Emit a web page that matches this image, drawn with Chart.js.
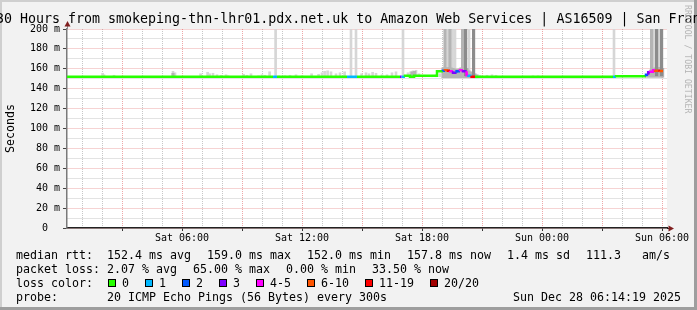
<!DOCTYPE html>
<html><head><meta charset="utf-8">
<script src="https://cdn.jsdelivr.net/npm/chart.js@4.4.1/dist/chart.umd.min.js"></script>
<style>
html,body{margin:0;padding:0;background:#f2f2f2;}
#wrap{position:relative;width:697px;height:310px;overflow:hidden;font-family:'DejaVu Sans Mono',monospace;color:#000;}
#c{position:absolute;left:0;top:0;}
.ov{position:absolute;white-space:pre;}
#title{left:-4px;top:11.4px;font-size:13.3px;line-height:16px;}
#wm{left:692px;top:5px;font-size:8.2px;line-height:8.2px;color:#b4b4b4;transform-origin:0 0;transform:rotate(90deg);}
.fl{font-size:11.63px;line-height:14px;height:14px;display:flex;}
.fl span{white-space:pre;}
.gap{margin-right:16px;}
.box{display:inline-block;width:6px;height:6px;border:1px solid #000;margin-right:-1px;}
</style></head>
<body>
<div id="wrap">
<canvas id="c" width="697" height="310"></canvas>
<div class="ov" id="title">30 Hours from smokeping-thn-lhr01.pdx.net.uk to Amazon Web Services | AS16509 | San Francisco</div>
<div class="ov" id="wm">RRDTOOL / TOBI OETIKER</div>
<div class="ov fl" id="l1" style="left:16px;top:247.7px"></div>
<div class="ov fl" id="l2" style="left:16px;top:261.7px"></div>
<div class="ov fl" style="left:16px;top:275.7px"><span>loss color:</span></div>
<div class="ov fl" id="l3" style="left:108px;top:275.7px"></div>
<div class="ov fl" id="l4" style="left:16px;top:289.7px"></div>
<div class="ov fl" id="l4r" style="right:16px;top:289.7px"></div>
</div>
<script>
// ---- data (x = hours since Sat 00:00) ----
const medianTimes = [0.25,10.55,10.75,14.25,14.75,16.9,16.98,17.15,17.4,17.6,18.75,19.05,19.15,19.3,19.4,19.55,19.73,19.9,20.05,20.23,20.32,20.48,20.65,27.55,27.7,29.2,29.31,29.4,29.56,29.65,29.81,29.9,30.05];
const medianRtt   = [152,152,152,152,152,152,152,152,153,152,153,157.5,158,158.5,158,157.5,156,157.5,158.5,157.5,153.5,153,152,152,152,152.5,154,156.5,157,158.5,158,158,157.8];
const lossCount   = [0,1,0,1,0,3,1,0,0,0,0,2,7,12,4,3,2,5,3,4,1,12,0,1,0,2,3,4,5,8,12,7,7];

const lightT  = [2.03,2.1,2.6,5.55,5.65,6.93,7.28,7.38,7.55,7.75,7.95,8.2,8.3,9.08,9.25,9.45,9.83,10.0,10.15,10.38,10.68,10.85,11.15,11.4,11.7,12.0,12.48,12.83,13.0,13.13,13.28,13.45,13.7,13.9,14.13,14.45,14.7,14.98,15.2,15.35,15.53,15.7,16.0,16.25,16.5,16.7,17.05,17.3,17.43,17.55,17.7,17.85,18.15,18.5,18.7,18.9,19.28,19.53,19.65,20.35,20.9,21.25,21.5,21.7,23.55,23.8,27.6,29.58,29.85];
const lightLo = [152,152,152,152,152,152,152,152,152,152,152,152,152,152,152,152,152,152,152,152,152,152,152,152,152,152,152,152,152,152,152,152,152,152,152,152,152,152,152,152,152,152,152,152,152,152,152,152,152,152,152,152,152,152,152,152,151,151,151,151,152,152,152,152,152,152,152,152,152];
const lightHi = [155.5,154,153.5,157.5,156,155,156.5,155,155.5,154,153.5,154,153,154.5,153.5,155,153,154,153.5,157,215,153,153,153.5,154,153,155,154.5,156,157.5,158,157,155,156,157,215,215,155,156,155,156.5,155.5,154,154,156,157,215,156,157,158,158.5,155,153.5,153,154,155,215,215,215,215,153.5,153.5,154,153.5,153,153,215,215,215];

const midT  = [5.55,17.5,17.63,19.05,19.15,19.25,19.35,19.45,19.55,19.65,19.75,19.85,19.95,20.05,20.15,20.25,20.35,20.45,20.55,20.65,20.75,19.15,19.4,20.03,29.25,29.35,29.45,29.55,29.65,29.75,29.85,29.95,30.03,29.48];
const midLo = [152,152,152,151,151,151,151,151,151,151,151,151,151,151,151,151,151,151,151,151,151,152,152,152,151.5,151.5,151.5,151.5,151.5,151.5,151.5,151.5,151.5,152];
const midHi = [155.5,157,157.5,161,161.5,161,161.5,161,160.5,160,159.5,160,161,161.5,161,160.5,158,157,156.5,155,154,215,215,215,154,157,159,160,161,161,161.5,161,160.5,215];

const darkT  = [20.18,20.58,29.73,29.98];
const darkLo = [153,152,153,153];
const darkHi = [215,215,215,215];

const hourTicks  = [1,2,3,4,5,6,7,8,9,10,11,12,13,14,15,16,17,18,19,20,21,22,23,24,25,26,27,28,29,30];
const labelHours = [6,12,18,24,30];
const timeLabels = ['Sat 06:00','Sat 12:00','Sat 18:00','Sun 00:00','Sun 06:00'];
const yTicks     = [0,10,20,30,40,50,60,70,80,90,100,110,120,130,140,150,160,170,180,190,200];
const yLabelVals = [0,20,40,60,80,100,120,140,160,180,200];
const yLabels    = ['0  ','20 m','40 m','60 m','80 m','100 m','120 m','140 m','160 m','180 m','200 m'];

const rttStats   = ['median rtt:  152.4 ms avg','159.0 ms max','152.0 ms min','157.8 ms now','1.4 ms sd','111.3   am/s'];
const lossStats  = ['packet loss: 2.07 % avg','65.00 % max','0.00 % min','33.50 % now'];
const lossLabels = ['0','1','2','3','4-5','6-10','11-19','20/20'];
const probeText  = 'probe:       20 ICMP Echo Pings (56 Bytes) every 300s';
const stampText  = 'Sun Dec 28 06:14:19 2025';

// ---- styles ----
const lossColors = ['#26ff00','#00b8ff','#0059ff','#7e00ff','#ff00ff','#ff5500','#ff0000','#a10000'];
function lossColor(n){
  if(n===0) return lossColors[0]; if(n===1) return lossColors[1]; if(n===2) return lossColors[2];
  if(n===3) return lossColors[3]; if(n<=5) return lossColors[4]; if(n<=10) return lossColors[5];
  if(n<=19) return lossColors[6]; return lossColors[7];
}
const GRID='rgba(143,143,143,0.5)', MGRID='rgba(222,79,79,0.5)';

// ---- footer text ----
function fillLine(id, items){
  const el=document.getElementById(id);
  items.forEach((t,i)=>{const s=document.createElement('span'); s.textContent=t; if(i<items.length-1) s.className='gap'; el.appendChild(s);});
}
fillLine('l1', rttStats);
fillLine('l2', lossStats);
const l3=document.getElementById('l3');
lossLabels.forEach((t,i)=>{
  const it=document.createElement('span'); if(i<lossLabels.length-1) it.className='gap';
  const b=document.createElement('span'); b.className='box'; b.style.background=lossColors[i];
  it.appendChild(b); it.appendChild(document.createTextNode(' '+t)); l3.appendChild(it);
});
document.getElementById('l4').textContent=probeText;
document.getElementById('l4r').textContent=stampText;

// ---- chart ----
Chart.defaults.font.family="'DejaVu Sans Mono', monospace";
Chart.defaults.color='#000';

const framePlugin={
  id:'frame',
  beforeDraw(chart){
    const {ctx,chartArea:a,width:w,height:h}=chart;
    ctx.save();
    ctx.fillStyle='#f2f2f2'; ctx.fillRect(0,0,w,h);
    ctx.fillStyle='#cfcfcf'; ctx.fillRect(0,0,w,2); ctx.fillRect(0,0,2,h);
    ctx.fillStyle='#9e9e9e'; ctx.fillRect(w-3,0,3,h); ctx.fillRect(0,h-3,w,3);
    ctx.fillStyle='#ffffff'; ctx.fillRect(a.left,a.top,a.right-a.left,a.bottom-a.top);
    ctx.restore();
  },
  afterDraw(chart){
    const {ctx,chartArea:a}=chart;
    ctx.save();
    ctx.strokeStyle='#888'; ctx.lineWidth=1;
    ctx.beginPath(); ctx.moveTo(a.left+0.5,a.top); ctx.lineTo(a.left+0.5,a.top-3); ctx.stroke();
    ctx.strokeStyle='#222';
    ctx.beginPath(); ctx.moveTo(a.right,a.bottom+0.5); ctx.lineTo(a.right+2,a.bottom+0.5); ctx.stroke();
    ctx.fillStyle='#801f1f';
    ctx.beginPath(); ctx.moveTo(a.left+0.5,a.top-8); ctx.lineTo(a.left-2.5,a.top-2.5); ctx.lineTo(a.left+3.5,a.top-2.5); ctx.closePath(); ctx.fill();
    ctx.beginPath(); ctx.moveTo(a.right+7,a.bottom+0.5); ctx.lineTo(a.right+1.5,a.bottom-2.5); ctx.lineTo(a.right+1.5,a.bottom+3.5); ctx.closePath(); ctx.fill();
    ctx.restore();
  }
};

const toBars=(T,L,H)=>T.map((t,i)=>({x:t,y:[L[i],H[i]]}));

new Chart(document.getElementById('c'),{
  type:'bar',
  data:{datasets:[
    {type:'line',data:medianTimes.map((t,i)=>({x:t,y:medianRtt[i]})),stepped:'after',borderWidth:2.5,pointRadius:0,
     borderColor:lossColors[0],fill:false,order:0,segment:{borderColor:c=>lossColor(lossCount[c.p0DataIndex])}},
    {data:toBars(darkT,darkLo,darkHi),backgroundColor:'#8c8c8c',barThickness:2.5,grouped:false,order:1},
    {data:toBars(midT,midLo,midHi),backgroundColor:'#b4b4b4',barThickness:2.5,grouped:false,order:2},
    {data:toBars(lightT,lightLo,lightHi),backgroundColor:'#d6d6d6',barThickness:2,grouped:false,order:3}
  ]},
  options:{
    responsive:false,animation:false,devicePixelRatio:1,events:[],
    layout:{padding:{left:0,top:29,right:30,bottom:0}},
    plugins:{legend:{display:false},tooltip:{enabled:false},title:{display:false}},
    scales:{
      x:{type:'linear',min:0.25,max:30.25,offset:false,
        afterFit(s){s.height=82;},
        afterBuildTicks(s){s.ticks=hourTicks.map(v=>({value:v}));},
        grid:{offset:false,lineWidth:1,tickLength:3,
          color:c=>(c.tick&&c.tick.value%3===0)?MGRID:GRID,
          tickColor:c=>(c.tick&&c.tick.value%3===0)?'#333':'rgba(0,0,0,0)'},
        border:{display:true,color:'#222',width:1.5,dash:[1,1]},
        ticks:{autoSkip:false,maxRotation:0,minRotation:0,padding:1,font:{size:10},color:'#000',
          callback:v=>{const k=labelHours.indexOf(v);return k<0?'':timeLabels[k];}}
      },
      y:{type:'linear',min:0,max:200,
        afterFit(s){s.width=67;},
        afterBuildTicks(s){s.ticks=yTicks.map(v=>({value:v}));},
        grid:{lineWidth:1,tickLength:4,
          color:c=>(c.tick&&c.tick.value%20===0)?MGRID:GRID,
          tickColor:c=>(c.tick&&c.tick.value%20===0)?'#444':'rgba(0,0,0,0)'},
        border:{display:true,color:'#7a7a7a',width:1.5,dash:[1,1]},
        ticks:{autoSkip:false,padding:3,font:{size:10},color:'#000',
          callback:v=>{const k=yLabelVals.indexOf(v);return k<0?'':yLabels[k];}},
        title:{display:true,text:'Seconds',font:{size:11.63},color:'#000',padding:{top:3.5,bottom:0}}
      }
    }
  },
  plugins:[framePlugin]
});
</script>
</body></html>
